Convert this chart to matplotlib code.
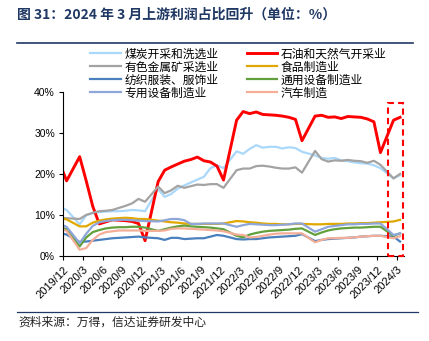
import matplotlib
matplotlib.use("Agg")
import matplotlib.pyplot as plt
from matplotlib.patches import Rectangle
from matplotlib.lines import Line2D

# months with data (Jan is merged into Feb in the source data)
months = []
for y in range(2019, 2025):
    for m in range(1, 13):
        if m == 1:
            continue
        if (y, m) < (2019, 11) or (y, m) > (2024, 3):
            continue
        months.append(f"{y}/{m}")

tick_labels = ["2019/12", "2020/3", "2020/6", "2020/9", "2020/12", "2021/3", "2021/6",
               "2021/9", "2021/12", "2022/3", "2022/6", "2022/9", "2022/12", "2023/3",
               "2023/6", "2023/9", "2023/12", "2024/3"]

coal = [12.0, 11.3, 7.8, 10.0, 10.5, 10.8, 10.9, 11.0, 11.0, 11.1, 11.3, 11.2, 11.0,
        16.4, 14.5, 15.2, 16.5, 17.3, 18.0, 18.7, 19.4, 21.5, 22.2, 21.5,
        25.6, 25.0, 26.2, 27.1, 26.5, 26.7, 26.7, 26.3, 26.6, 26.4, 25.5,
        24.6, 24.0, 23.8, 24.0, 23.4, 23.2, 22.9, 22.7, 22.6, 22.2, 21.5,
        19.0, 19.8]
oil = [22.5, 18.4, 24.3, 18.4, 12.2, 7.9, 8.4, 8.9, 8.8, 8.7, 8.5, 8.0, 3.8,
       18.2, 21.0, 21.8, 22.5, 23.2, 23.6, 24.2, 23.3, 23.0, 22.0, 18.6,
       33.2, 35.3, 34.8, 35.2, 34.6, 34.5, 34.4, 34.2, 33.9, 33.4, 28.2,
       34.2, 34.4, 33.9, 34.0, 33.6, 34.1, 34.0, 33.9, 33.5, 32.8, 25.3,
       33.2, 33.9]
metal = [9.3, 9.3, 9.1, 10.1, 10.6, 11.0, 11.1, 11.3, 11.8, 12.3, 12.9, 14.0, 13.3,
         17.0, 15.4, 16.1, 17.2, 16.7, 17.1, 17.5, 17.4, 17.6, 17.6, 16.7,
         21.0, 21.4, 21.4, 22.0, 22.1, 21.9, 21.6, 21.4, 21.4, 21.7, 20.4,
         25.7, 23.7, 23.1, 23.4, 23.3, 23.5, 23.3, 23.2, 22.8, 23.3, 22.3,
         19.0, 20.1]
food = [9.3, 9.0, 7.3, 7.3, 8.2, 8.7, 9.0, 9.2, 9.3, 9.4, 9.3, 9.1, 9.1,
        8.7, 8.5, 8.3, 8.2, 8.0, 7.9, 7.9, 7.9, 7.9, 7.9, 8.0,
        8.6, 8.5, 8.3, 8.2, 8.0, 7.9, 7.9, 7.8, 7.8, 7.9, 7.9,
        7.8, 7.8, 7.9, 7.9, 7.9, 8.0, 8.0, 8.1, 8.1, 8.2, 8.3,
        8.5, 8.9]
textile = [5.7, 5.3, 3.5, 3.6, 3.8, 4.0, 4.2, 4.4, 4.5, 4.6, 4.7, 4.8, 4.6,
           4.4, 4.0, 4.5, 4.5, 4.2, 4.3, 4.4, 4.4, 4.8, 5.2, 5.0,
           4.2, 4.1, 4.2, 4.2, 4.4, 4.6, 4.7, 4.8, 4.9, 5.0, 5.4,
           3.7, 4.0, 4.2, 4.3, 4.4, 4.5, 4.6, 4.8, 4.9, 5.0, 5.0,
           4.8, 3.6]
general = [7.0, 6.6, 2.4, 4.6, 5.9, 6.4, 6.8, 7.0, 7.1, 7.1, 7.2, 7.2, 7.0,
           6.2, 6.6, 7.0, 7.3, 7.5, 7.3, 7.2, 7.1, 7.0, 6.8, 6.6,
           5.0, 4.6, 5.3, 5.7, 6.0, 6.2, 6.3, 6.4, 6.5, 6.7, 6.8,
           5.2, 5.8, 6.3, 6.6, 6.8, 6.9, 7.0, 7.0, 7.1, 7.2, 7.2,
           5.0, 5.6]
special = [7.8, 7.2, 3.2, 5.5, 7.4, 8.3, 8.6, 8.8, 8.9, 8.9, 8.8, 8.7, 8.6,
           8.5, 8.8, 9.1, 9.1, 8.8, 7.9, 7.9, 8.0, 8.0, 8.0, 8.0,
           7.2, 7.6, 7.9, 7.8, 7.7, 7.6, 7.6, 7.7, 7.8, 8.0, 8.0,
           6.0, 6.6, 7.2, 7.4, 7.6, 7.8, 7.8, 7.9, 7.9, 8.0, 8.0,
           5.2, 5.6]
auto = [6.8, 6.2, 1.6, 2.0, 4.0, 5.3, 5.9, 6.1, 6.3, 6.3, 6.3, 6.3, 6.2,
        6.2, 6.3, 6.7, 6.8, 6.8, 6.7, 6.6, 6.5, 6.4, 6.3, 6.1,
        5.3, 5.2, 4.6, 4.7, 5.0, 5.3, 5.5, 5.6, 5.6, 5.6, 5.6,
        3.4, 4.0, 4.4, 4.4, 4.5, 4.5, 4.6, 4.8, 4.9, 5.0, 5.0,
        4.4, 4.9]

names = ["煤炭开采和洗选业", "石油和天然气开采业", "有色金属矿采选业", "食品制造业",
         "纺织服装、服饰业", "通用设备制造业", "专用设备制造业", "汽车制造"]
series = [coal, oil, metal, food, textile, general, special, auto]
colors = ["#aad8fb", "#ff0000", "#a3a3a3", "#e0a800",
          "#4a80bd", "#62a03e", "#8ea6d9", "#f4ae98"]
widths = [1.6, 2.1, 1.6, 1.6, 1.6, 1.6, 1.6, 1.6]


def month_pos(label):
    y, m = map(int, label.split("/"))
    return (y - 2019) * 12 + m - 12


x = [month_pos(s) + 0.5 for s in months]

cjk = ["Noto Sans CJK SC", "DejaVu Sans"]
plt.rcParams["font.family"] = ["Liberation Sans", "Noto Sans CJK SC", "DejaVu Sans"]

fig = plt.figure(figsize=(4.29, 3.41), dpi=100)
ax = fig.add_axes([0.1476, 0.2484, 0.7941, 0.4809])

lines = []
for vals, name, c, lw in zip(series, names, colors, widths):
    ln, = ax.plot(x, vals, color=c, lw=lw, label=name, solid_joinstyle="round")
    lines.append(ln)

ax.set_xlim(0, 52.1)
ax.set_ylim(0, 40)
ax.set_yticks([0, 10, 20, 30, 40])
ax.set_yticklabels([f"{v}%" for v in [0, 10, 20, 30, 40]], fontsize=7.5)
ax.set_xticks([month_pos(s) for s in tick_labels])
ax.set_xticklabels(tick_labels, rotation=45, ha="right", va="top",
                   rotation_mode="anchor", fontsize=8)
ax.tick_params(axis="both", direction="out", length=3, width=0.8, pad=3)
for side in ["top", "right"]:
    ax.spines[side].set_visible(False)
for side in ["left", "bottom"]:
    ax.spines[side].set_linewidth(0.8)

# highlight box for latest months
ax.add_patch(Rectangle((49.7, 0), 2.3, 37.5, fill=False, ec="#ff0000", lw=1.5,
                       ls=(0, (3, 2)), clip_on=False, zorder=5))

# legend fills column by column, so reorder to read row by row
order = [0, 2, 4, 6, 1, 3, 5, 7]
fig.legend([lines[i] for i in order], [names[i] for i in order],
           ncol=2, loc="upper left", bbox_to_anchor=(90 / 429, 1 - 47.5 / 341),
           frameon=False, prop={"family": cjk, "size": 8.5}, handlelength=2.6,
           handletextpad=0.3, columnspacing=2.4, labelspacing=0.0,
           borderpad=0, borderaxespad=0)

navy = "#1f3864"
fig.text(17 / 429, 1 - 15 / 341, "图 31：2024 年 3 月上游利润占比回升（单位：%）",
         fontsize=10, fontweight="bold", color=navy, family=cjk, va="center")
fig.add_artist(Line2D([17 / 429, 413 / 429], [1 - 43.3 / 341] * 2, color=navy, lw=1.2))
fig.add_artist(Line2D([17 / 429, 418 / 429], [1 - 312.3 / 341] * 2, color=navy, lw=0.9))
fig.text(18 / 429, 1 - 321.7 / 341, "资料来源：万得，信达证券研发中心",
         fontsize=8.5, color="#222222", family=cjk, va="center")

fig.savefig("out.png", dpi=100)
